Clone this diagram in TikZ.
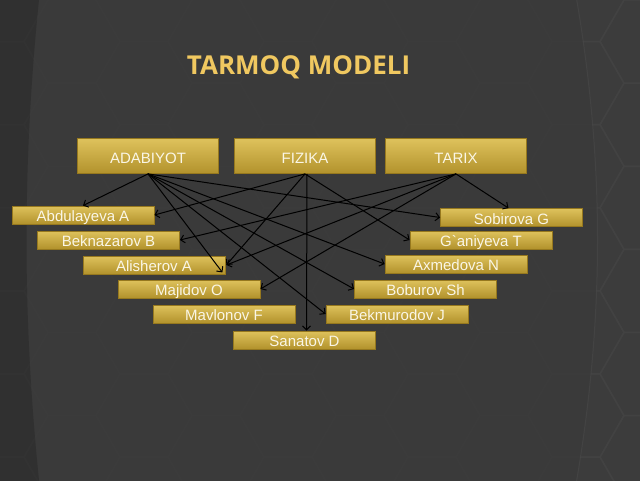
\documentclass[tikz,border=0pt]{standalone}
\usepackage{fontspec}
\setmainfont{Liberation Sans}
\newfontfamily\titlefont{Open Sans}
\newfontfamily\rawsans{Liberation Sans}
\usetikzlibrary{arrows.meta,calc}
\definecolor{bgc}{RGB}{58,58,58}
\definecolor{bandl}{RGB}{46,46,46}
\definecolor{bandr}{RGB}{64,64,64}
\definecolor{hexc}{RGB}{68,68,68}
\definecolor{goldtop}{RGB}{222,194,92}
\definecolor{goldbot}{RGB}{178,146,44}
\definecolor{goldedge}{RGB}{150,120,30}
\definecolor{titlec}{RGB}{240,200,96}
\definecolor{txtc}{RGB}{250,246,230}
\tikzset{
  hexline/.style={draw=hexc, line width=1.4pt},
  subj/.style={rectangle, draw=goldedge, line width=0.8pt, top color=goldtop, bottom color=goldbot,
    minimum width=141pt, minimum height=35pt, inner sep=0pt, text=txtc,
    text height=14.5pt, text depth=0.5pt, font=\fontsize{15}{18}\selectfont},
  stud/.style={rectangle, draw=goldedge, line width=0.8pt, top color=goldtop, bottom color=goldbot,
    minimum width=142pt, minimum height=18pt, inner sep=0pt, text=txtc,
    text height=13.5pt, text depth=0.5pt, font=\fontsize{15}{18}\selectfont},
  titlestyle/.style={text=titlec, font=\titlefont\bfseries\fontsize{26}{30}\selectfont, inner sep=0pt},
  arr/.style={draw=black, line width=1pt, -{Straight Barb[length=4pt,width=8pt]}}
}
\begin{document}
\begin{tikzpicture}[x=1pt,y=-1pt]
\useasboundingbox (0,0) rectangle (640,480);
\begin{scope}
\clip (0,0) rectangle (640,480);
% background
\fill[bgc] (-5,-5) rectangle (645,485);
\foreach \i in {0,...,9}{
  \foreach \j in {0,...,6}{
    \draw[hexline, shift={({\i*72},{\j*83.1+mod(\i,2)*41.6})}]
      (48,0) -- (24,41.6) -- (-24,41.6) -- (-48,0) -- (-24,-41.6) -- (24,-41.6) -- cycle;
  }
}
\fill[bgc, opacity=0.85] (40,-10) .. controls (22,160) and (22,320) .. (40,490) -- (575,490)
  .. controls (605,320) and (605,160) .. (575,-10) -- cycle;
\fill[bandl, opacity=0.8] (-5,-10) -- (40,-10) .. controls (22,160) and (22,320) .. (40,490) -- (-5,490) -- cycle;
\fill[bandr, opacity=0.4] (575,-10) .. controls (605,160) and (605,320) .. (575,490) -- (645,490) -- (645,-10) -- cycle;
\draw[black!70, line width=1pt, opacity=0.5] (575,-10) .. controls (605,160) and (605,320) .. (575,490);
\end{scope}

% title
\node[titlestyle] (title) at (298.5,67) {TARMOQ MODELI};

% subjects
\node[subj] (ada) at (148,156) {ADABIYOT};
\node[subj] (fiz) at (305,156) {FIZIKA};
\node[subj] (tar) at (456,156) {TARIX};

% students
\node[stud] (abd) at (83,215) {Abdulayeva A};
\node[stud] (bek) at (108.5,240) {Beknazarov B};
\node[stud] (ali) at (154,265) {Alisherov A};
\node[stud] (maj) at (189,289) {Majidov O};
\node[stud] (mav) at (224,314) {Mavlonov F};
\node[stud] (san) at (304.5,340) {Sanatov D};
\node[stud] (sob) at (511.5,217.5) {Sobirova G};
\node[stud] (gan) at (481,240) {\rawsans G`aniyeva T};
\node[stud] (axm) at (456,264) {Axmedova N};
\node[stud] (bob) at (425.5,289) {Boburov Sh};
\node[stud] (bkm) at (397,314) {Bekmurodov J};

\coordinate (alilow) at ($(ali.south east)+(-3,-2)$);
\coordinate (alihigh) at ($(ali.east)+(1,0)$);
\coordinate (sobtop) at ($(sob.north)+(-3,0)$);
\coordinate (santop) at ($(san.north)+(2,0)$);
\coordinate (fizs) at ($(fiz.south)+(2,0)$);

% ADABIYOT
\draw[arr] (ada.south) -- (abd.north);
\draw[arr] (ada.south) -- (alilow);
\draw[arr] (ada.south) -- (sob.west);
\draw[arr] (ada.south) -- (axm.west);
\draw[arr] (ada.south) -- (bob.west);
\draw[arr] (ada.south) -- (bkm.west);
% FIZIKA
\draw[arr] (fiz.south) -- (abd.east);
\draw[arr] (fiz.south) -- (alihigh);
\draw[arr] (fizs) -- (santop);
\draw[arr] (fiz.south) -- (gan.west);
% TARIX
\draw[arr] (tar.south) -- (bek.east);
\draw[arr] (tar.south) -- (alihigh);
\draw[arr] (tar.south) -- (maj.east);
\draw[arr] (tar.south) -- (sobtop);
\end{tikzpicture}
\end{document}
